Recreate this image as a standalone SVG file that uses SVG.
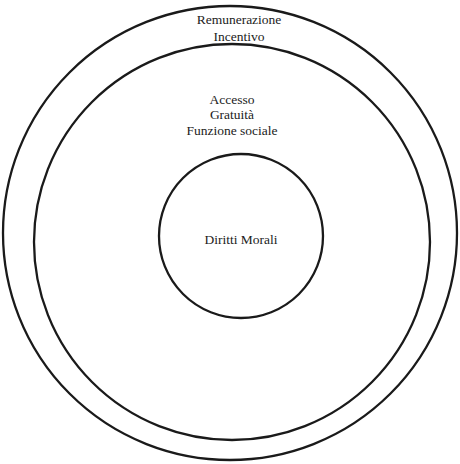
<svg xmlns="http://www.w3.org/2000/svg" width="460" height="464" viewBox="0 0 460 464">
<style>
.ring{fill:none;stroke:#1a1a1a;stroke-width:2.3}
.lbl{font-family:"Liberation Serif","Times New Roman",serif;font-size:13.5px;fill:#222;text-anchor:middle}
</style>
<rect width="460" height="464" fill="#fff"/>
<g id="outer">
<circle class="ring" cx="230" cy="233" r="227"/>
<text class="lbl" x="239" y="24">Remunerazione</text>
<text class="lbl" x="239" y="41">Incentivo</text>
</g>
<g id="middle">
<circle class="ring" cx="232" cy="242" r="198"/>
<text class="lbl" x="232" y="104">Accesso</text>
<text class="lbl" x="232" y="119">Gratuità</text>
<text class="lbl" x="232" y="135">Funzione sociale</text>
</g>
<g id="inner">
<circle class="ring" cx="241" cy="236" r="82"/>
<text class="lbl" x="241" y="244">Diritti Morali</text>
</g>
<g id="connectors"/>
</svg>
